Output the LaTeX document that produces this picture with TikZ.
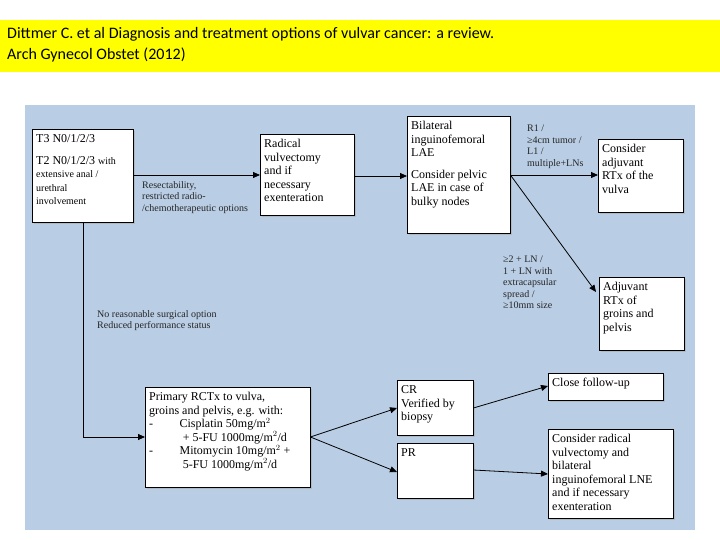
\documentclass[tikz,border=0pt]{standalone}
\usepackage{fontspec}
\setmainfont{Liberation Serif}
\newfontfamily\bannerfont{Carlito}
\usetikzlibrary{shadows,arrows.meta}
\definecolor{panelblue}{RGB}{185, 205, 228}
\definecolor{banneryellow}{RGB}{255, 255, 0}

% fixed-size box content, text from the top
\newcommand{\boxtext}[3]{\parbox[t][#2][t]{#1}{\raggedright\strut#3}}

\tikzset{
  flowbox/.style={draw=black, fill=white, anchor=north west, align=left,
    inner sep=4pt, font=\fontsize{12}{13.5}\selectfont,
    drop shadow={shadow xshift=2pt, shadow yshift=-2pt, fill=gray!70}},
  flowlabel/.style={anchor=north west, align=left, inner sep=0pt,
    font=\fontsize{10}{11.5}\selectfont, text=black!85},
  flowarrow/.style={draw=black, thick, -{Triangle[length=7pt,width=6pt]}},
}

\begin{document}
\begin{tikzpicture}[x=1pt, y=-1pt]
\useasboundingbox (0,0) rectangle (720,540);
\fill[white] (0,0) rectangle (720,540);
% banner
\fill[banneryellow] (0,20) rectangle (720,72);
\node[anchor=north west, align=left, inner sep=0pt, font=\bannerfont\fontsize{16}{21}\selectfont]
  (banner) at (7,27) {Dittmer C. et al Diagnosis and treatment options of vulvar cancer: a review.\\Arch Gynecol Obstet (2012)};
% panel
\fill[panelblue] (25,105) rectangle (695,530);

% boxes
\node[flowbox] (stage) at (32,129) {\boxtext{93pt}{85pt}
  {T3 N0/1/2/3\\[8pt]T2 N0/1/2/3 {\fontsize{10}{11}\selectfont with}\\{\fontsize{10}{11}\selectfont extensive anal /}\\{\fontsize{10}{11}\selectfont urethral}\\{\fontsize{10}{11}\selectfont involvement}}};
\node[flowbox] (vulvectomy) at (260,134) {\boxtext{86pt}{73pt}
  {Radical\\vulvectomy\\and if\\necessary\\exenteration}};
\node[flowbox] (lae) at (407,116) {\boxtext{95pt}{109pt}
  {Bilateral\\inguinofemoral\\LAE\\[8pt]Consider pelvic\\LAE in case of\\bulky nodes}};
\node[flowbox] (rtvulva) at (598,139) {\boxtext{77pt}{65pt}
  {Consider\\adjuvant\\RTx of the\\vulva}};
\node[flowbox] (rtgroins) at (599,277) {\boxtext{77pt}{65pt}
  {Adjuvant\\RTx of\\groins and\\pelvis}};
\node[flowbox] (rctx) at (145,387) {\boxtext{157pt}{92pt}
  {Primary RCTx to vulva,\\groins and pelvis, e.g. with:\\
   -\hspace{2.2em}Cisplatin 50mg/m$^2$\\
   \hspace{2.8em}+ 5-FU 1000mg/m$^2$/d\\
   -\hspace{2.2em}Mitomycin 10mg/m$^2$ +\\
   \hspace{2.8em}5-FU 1000mg/m$^2$/d}};
\node[flowbox] (cr) at (397,380) {\boxtext{68pt}{47pt}
  {CR\\Verified by\\biopsy}};
\node[flowbox] (pr) at (397,443) {\boxtext{68pt}{47pt}
  {PR}};
\node[flowbox] (followup) at (548,373) {\boxtext{107pt}{19pt}
  {Close follow-up}};
\node[flowbox] (radical) at (548,429) {\boxtext{117pt}{81pt}
  {Consider radical\\vulvectomy and\\bilateral\\inguinofemoral LNE\\and if necessary\\exenteration}};

% labels
\node[flowlabel] (lresect) at (142,181) {Resectability,\\restricted radio-\\/chemotherapeutic options};
\node[flowlabel] (lnosurg) at (97,310) {No reasonable surgical option\\Reduced performance status};
\node[flowlabel] (lr1) at (527,125) {R1 /\\≥4cm tumor /\\L1 /\\multiple+LNs};
\node[flowlabel] (lln) at (503,256) {≥2 + LN /\\1 + LN with\\extracapsular\\spread /\\≥10mm size};

% connectors
\coordinate (corner) at (83,437);
\draw[flowarrow] (stage.east |- 0,175) -- (vulvectomy.west |- 0,175);
\draw[flowarrow] (vulvectomy.east |- 0,176) -- (lae.west |- 0,176);
\draw[flowarrow] (lae.east |- 0,175) -- (rtvulva.west |- 0,175);
\draw[flowarrow] (lae.east |- 0,175) -- (596,292);
\draw[thick] (stage.south -| corner) -- (corner);
\draw[flowarrow] (corner) -- (rctx.west |- corner);
\coordinate (rctxout) at (rctx.east |- 0,437);
\draw[flowarrow] (rctxout) -- (cr.west |- 0,408);
\draw[flowarrow] (rctxout) -- (pr.west |- 0,472);
\draw[flowarrow] (cr.east |- 0,408) -- (followup.west |- 0,386);
\draw[flowarrow] (pr.east |- 0,470) -- (radical.west |- 0,474);
\end{tikzpicture}
\end{document}
